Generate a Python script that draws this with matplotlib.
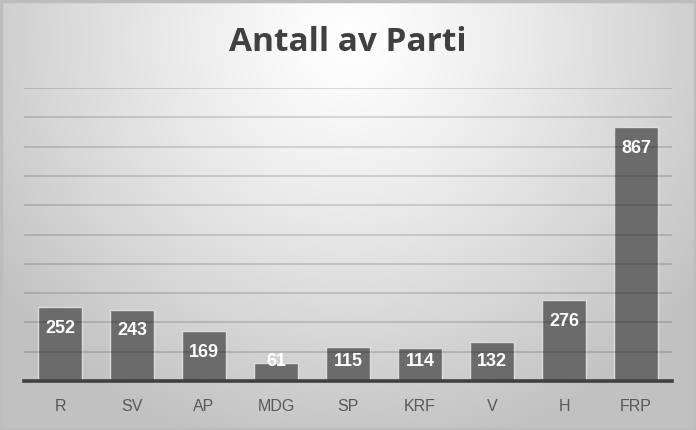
import numpy as np
import matplotlib
matplotlib.use("Agg")
import matplotlib.pyplot as plt
from matplotlib.patches import Rectangle

categories = ["R", "SV", "AP", "MDG", "SP", "KRF", "V", "H", "FRP"]
values = [252, 243, 169, 61, 115, 114, 132, 276, 867]
title = "Antall av Parti"

W, H = 696, 430
fig = plt.figure(figsize=(W / 100, H / 100), dpi=100)

# radial gradient background
bg = fig.add_axes([0, 0, 1, 1], zorder=-10)
yy, xx = np.mgrid[0:H, 0:W]
cx, cy = 348, 40
r = np.sqrt(((xx - cx) / 430.0) ** 2 + ((yy - cy) / 420.0) ** 2)
val = 1.0 - 0.24 * np.clip(r, 0, 1.3) ** 1.2
val = np.clip(val, 0.76, 1.0)
img = np.dstack([val, val, val])
bg.imshow(img, extent=[0, W, H, 0], aspect="auto", interpolation="bilinear")
bg.set_xlim(0, W)
bg.set_ylim(H, 0)
bg.axis("off")
bg.add_patch(Rectangle((0.5, 0.5), W - 1.5, H - 1.5, fill=False,
                       edgecolor="#bdbdbd", linewidth=2.5))

ax = fig.add_axes([24 / W, 1 - 381 / H, 648 / W, (381 - 88) / H])
ax.patch.set_alpha(0)
x = np.arange(len(categories))
ax.bar(x, values, width=0.61, color="#6b6b6b", edgecolor="#dcdcdc",
       linewidth=1.0, zorder=2)
ax.set_xlim(-0.5, len(categories) - 0.5)
ax.set_ylim(0, 1000)
ax.set_yticks(np.arange(100, 1001, 100))
ax.yaxis.grid(True, color="black", alpha=0.16, linewidth=1.2, zorder=3)
ax.set_axisbelow(False)
for s in ["top", "right", "left"]:
    ax.spines[s].set_visible(False)
ax.spines["bottom"].set_color("#404040")
ax.spines["bottom"].set_linewidth(2.6)
ax.spines["bottom"].set_zorder(4)
ax.tick_params(axis="y", left=False, labelleft=False)
ax.tick_params(axis="x", length=0, pad=13)
ax.set_xticks(x)
ax.set_xticklabels(categories, fontsize=11.5, color="#595959",
                   family="Liberation Sans")

for xi, v in zip(x, values):
    ly = max(v - 72, 68)
    ax.text(xi, ly, str(v), ha="center", va="center", color="white",
            fontsize=13, fontweight="bold", family="Liberation Sans", zorder=5)

fig.text(0.5, 1 - 51 / H, title, ha="center", va="baseline", fontsize=24,
         fontweight="bold", color="#404040", family="Open Sans")

fig.savefig("out.png", dpi=100)
